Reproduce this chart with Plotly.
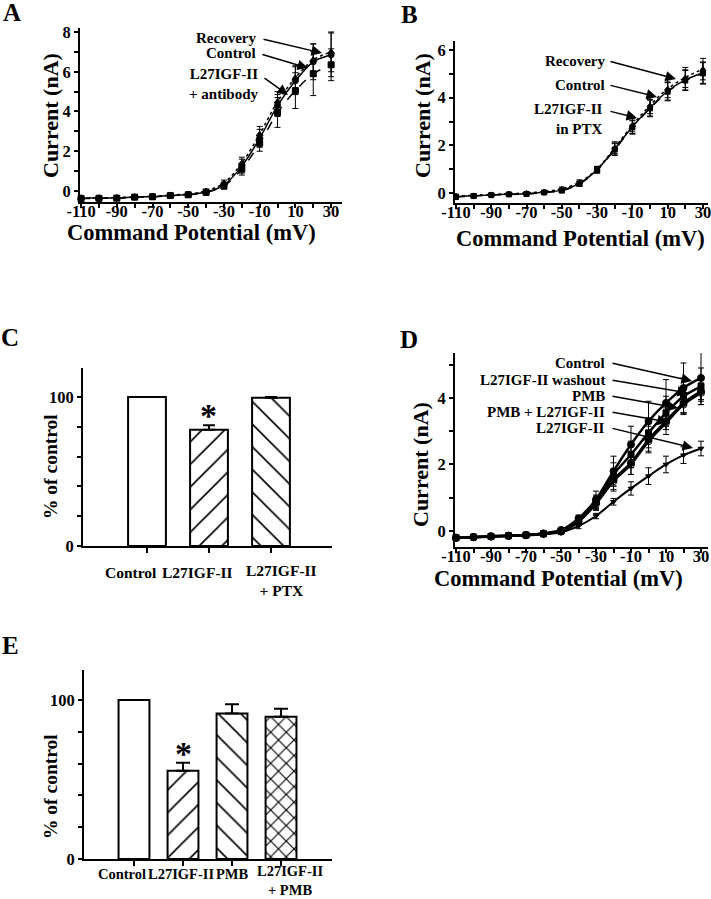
import plotly.graph_objects as go

# ---------------- data ----------------
voltage_mV = [-110, -100, -90, -80, -70, -60, -50, -40, -30, -20, -10, 0, 10, 20, 30]
x_tick_vals = [-110, -90, -70, -50, -30, -10, 10, 30]
x_tick_text = ["-110", "-90", "-70", "-50", "-30", "-10", "10", "30"]

# Panel A
a_control = [-0.35, -0.35, -0.35, -0.30, -0.28, -0.22, -0.18, -0.05, 0.30, 1.25, 2.65, 4.30, 5.55, 6.50, 6.85]
a_recovery = [-0.35, -0.35, -0.33, -0.30, -0.27, -0.20, -0.15, 0.00, 0.40, 1.40, 2.85, 4.50, 5.70, 6.60, 7.00]
a_antibody = [-0.38, -0.37, -0.36, -0.31, -0.29, -0.23, -0.19, -0.07, 0.25, 1.10, 2.40, 3.95, 5.05, 5.90, 6.35]
a_control_err = [0.08, 0.08, 0.08, 0.08, 0.08, 0.08, 0.08, 0.10, 0.15, 0.35, 0.45, 0.55, 0.70, 0.90, 1.10]
a_recovery_err = [0.08, 0.08, 0.08, 0.08, 0.08, 0.08, 0.08, 0.10, 0.15, 0.30, 0.40, 0.50, 0.60, 0.80, 1.00]
a_antibody_err = [0.08, 0.08, 0.08, 0.08, 0.08, 0.08, 0.08, 0.10, 0.15, 0.30, 0.40, 0.75, 0.90, 1.10, 0.80]

# Panel B
b_control = [-0.15, -0.12, -0.08, -0.05, -0.03, 0.03, 0.12, 0.40, 0.98, 1.85, 2.78, 3.58, 4.28, 4.75, 5.05]
b_recovery = [-0.12, -0.10, -0.06, -0.03, 0.00, 0.06, 0.17, 0.45, 1.00, 1.90, 2.85, 3.68, 4.38, 4.85, 5.20]
b_ptx = [-0.17, -0.13, -0.09, -0.06, -0.04, 0.02, 0.10, 0.38, 0.95, 1.82, 2.75, 3.55, 4.25, 4.72, 5.02]
b_err = [0.07, 0.06, 0.05, 0.05, 0.05, 0.05, 0.08, 0.10, 0.12, 0.25, 0.28, 0.35, 0.38, 0.42, 0.45]

# Panel C
c_categories = ["Control", "L27IGF-II", "L27IGF-II + PTX"]
c_labels = ["Control", "L27IGF-II", "L27IGF-II<br>+ PTX"]
c_values = [100, 78, 99.5]
c_err = [None, 3, 0.6]

# Panel D
d_control = [-0.20, -0.18, -0.16, -0.14, -0.12, -0.07, 0.03, 0.38, 0.95, 1.80, 2.60, 3.30, 3.85, 4.30, 4.60]
d_washout = [-0.20, -0.18, -0.16, -0.14, -0.12, -0.08, 0.00, 0.33, 0.88, 1.70, 2.30, 2.95, 3.55, 4.05, 4.35]
d_pmb = [-0.20, -0.18, -0.16, -0.14, -0.12, -0.08, -0.01, 0.30, 0.85, 1.55, 2.05, 2.75, 3.30, 3.85, 4.20]
d_pmb_l27 = [-0.21, -0.19, -0.17, -0.15, -0.13, -0.09, -0.02, 0.28, 0.82, 1.50, 2.00, 2.70, 3.25, 3.80, 4.15]
d_l27 = [-0.21, -0.19, -0.17, -0.15, -0.13, -0.10, -0.04, 0.15, 0.45, 0.88, 1.28, 1.65, 2.00, 2.28, 2.48]
d_control_err = [0.05, 0.05, 0.05, 0.05, 0.05, 0.05, 0.08, 0.10, 0.25, 0.45, 0.55, 0.60, 0.70, 0.75, 0.80]
d_washout_err = [0.05, 0.05, 0.05, 0.05, 0.05, 0.05, 0.08, 0.10, 0.20, 0.35, 0.40, 0.45, 0.50, 0.55, 0.55]
d_pmb_err = [0.05, 0.05, 0.05, 0.05, 0.05, 0.05, 0.08, 0.10, 0.20, 0.30, 0.35, 0.40, 0.40, 0.30, 0.25]
d_pmb_l27_err = [0.05, 0.05, 0.05, 0.05, 0.05, 0.05, 0.08, 0.10, 0.20, 0.30, 0.30, 0.30, 0.20, 0.25, 0.25]
d_l27_err = [0.05, 0.05, 0.05, 0.05, 0.05, 0.05, 0.06, 0.08, 0.08, 0.10, 0.20, 0.25, 0.25, 0.25, 0.22]

# Panel E
e_categories = ["Control", "L27IGF-II", "PMB", "L27IGF-II + PMB"]
e_labels = ["Control", "L27IGF-II", "PMB", "L27IGF-II<br>+ PMB"]
e_values = [100, 55.5, 91.5, 89.5]
e_err = [None, 5, 5.8, 5]

# ---------------- geometry helpers ----------------
W, H = 711, 899
FONT = "Liberation Serif"


def px(xp):
    return xp / W


def py(yp):
    return 1 - yp / H


def bfont(size):
    return dict(family=FONT, size=size, color="black", weight="bold")


# panel geometry: pixel domain + data range
panels = {
    "A": dict(xd=(80, 342), yd=(28, 202), xr=(-110.6, 36.1), yr=(-0.553, 8.2)),
    "B": dict(xd=(455, 708), yd=(41, 203), xr=(-110.57, 32.86), yr=(-0.42, 6.38)),
    "C": dict(xd=(83, 332), yd=(368, 546), xr=(-1.032, 2.984), yr=(0, 119.5)),
    "D": dict(xd=(455, 708), yd=(353, 547), xr=(-110.57, 34.0), yr=(-0.48, 5.35)),
    "E": dict(xd=(84, 332), yd=(670, 859), xr=(-1.02, 4.04), yr=(0, 118.9)),
}


def to_data(p, xp, yp):
    g = panels[p]
    x0, x1 = g["xd"]
    y0, y1 = g["yd"]
    a, b = g["xr"]
    c, d = g["yr"]
    return a + (xp - x0) / (x1 - x0) * (b - a), d - (yp - y0) / (y1 - y0) * (d - c)


axis_common = dict(
    showline=True, linecolor="black", linewidth=2, mirror=False,
    ticks="outside", ticklen=4, tickwidth=1.5, tickcolor="black",
    showgrid=False, zeroline=False, tickfont=bfont(16.5), fixedrange=True,
    automargin=False, ticklabeloverflow="allow",
)

fig = go.Figure()


def line_trace(xa, ya, y, err, symbol, dash, width=1.5, msize=6):
    return go.Scatter(
        x=voltage_mV, y=y, xaxis=xa, yaxis=ya, mode="lines+markers",
        line=dict(color="black", width=width, dash=dash, shape="spline", smoothing=0.8),
        marker=dict(symbol=symbol, size=msize, color="black",
                    line=dict(color="black", width=1)),
        error_y=dict(type="data", array=err, color="black", thickness=1, width=3),
        showlegend=False, cliponaxis=False,
    )


# Panel A
fig.add_trace(line_trace("x", "y", a_antibody, a_antibody_err, "square", "dash"))
fig.add_trace(line_trace("x", "y", a_recovery, a_recovery_err, "triangle-up", "dot"))
fig.add_trace(line_trace("x", "y", a_control, a_control_err, "circle", "solid"))

# Panel B
fig.add_trace(line_trace("x2", "y2", b_ptx, b_err, "square", "dash", msize=5))
fig.add_trace(line_trace("x2", "y2", b_recovery, b_err, "triangle-up", "dot", msize=5))
fig.add_trace(line_trace("x2", "y2", b_control, b_err, "circle", "solid", msize=5))

# Panel D
fig.add_trace(line_trace("x4", "y4", d_l27, d_l27_err, "triangle-down", "solid", 2, 5))
fig.add_trace(line_trace("x4", "y4", d_pmb_l27, d_pmb_l27_err, "circle-open", "solid", 2.5, 7))
fig.add_trace(line_trace("x4", "y4", d_pmb, d_pmb_err, "circle", "solid", 2.5, 7))
fig.add_trace(line_trace("x4", "y4", d_washout, d_washout_err, "square", "solid", 2.5, 6))
fig.add_trace(line_trace("x4", "y4", d_control, d_control_err, "circle", "solid", 2.5, 7))

# Panel C bars
fig.add_trace(go.Bar(
    x=c_categories, y=c_values, xaxis="x3", yaxis="y3", width=0.61,
    marker=dict(color="white", line=dict(color="black", width=2),
                pattern=dict(shape=["", "/", "\\"], fgcolor="black", bgcolor="white",
                             size=16, solidity=0.1, fillmode="replace")),
    error_y=dict(type="data", array=c_err, arrayminus=[0, 0, 0], symmetric=False,
                 color="black", thickness=2, width=6),
    showlegend=False,
))

# Panel E bars
fig.add_trace(go.Bar(
    x=e_categories, y=e_values, xaxis="x5", yaxis="y5", width=0.63,
    marker=dict(color="white", line=dict(color="black", width=2),
                pattern=dict(shape=["", "/", "\\", "x"], fgcolor="black", bgcolor="white",
                             size=[16, 16, 16, 11], solidity=[0.1, 0.1, 0.1, 0.2],
                             fillmode="replace")),
    error_y=dict(type="data", array=e_err, arrayminus=[0, 0, 0, 0], symmetric=False,
                 color="black", thickness=2, width=7),
    showlegend=False,
))


def dom(p):
    g = panels[p]
    return [px(g["xd"][0]), px(g["xd"][1])], [py(g["yd"][1]), py(g["yd"][0])]


layout = dict(
    template="none",
    width=W, height=H, margin=dict(l=0, r=0, t=0, b=0, autoexpand=False),
    paper_bgcolor="white", plot_bgcolor="white", showlegend=False, barmode="overlay",
)

minor_x = dict(ticks="outside", ticklen=4, tickwidth=1.5, tickcolor="black", dtick=10, tick0=-110, showgrid=False)

for i, p in enumerate(["A", "B", "C", "D", "E"], start=1):
    xd, yd = dom(p)
    sx = "" if i == 1 else str(i)
    g = panels[p]
    xa = dict(axis_common, domain=xd, anchor="y" + sx, range=list(g["xr"]))
    ya = dict(axis_common, domain=yd, anchor="x" + sx, range=list(g["yr"]))
    if p in ("A", "B", "D"):
        xa.update(tickmode="array", tickvals=x_tick_vals, ticktext=x_tick_text,
                  minor=minor_x, ticklabelstandoff=-11)
        ya.update(tick0=0, dtick=2,
                  minor=dict(ticks="outside", ticklen=4, tickwidth=1.5, tickcolor="black",
                             dtick=1, tick0=0, showgrid=False))
    else:
        xa.update(type="category", showticklabels=False, ticklen=5)
        ya.update(tick0=0, dtick=100,
                  minor=dict(ticks="outside", ticklen=4, tickwidth=1.5, tickcolor="black",
                             dtick=20, tick0=0, showgrid=False))
    layout["xaxis" + sx] = xa
    layout["yaxis" + sx] = ya

fig.update_layout(**layout)

ann = []


def ptext(text, xp, yp, size=15, angle=0, xanchor="center", yanchor="middle", align="center"):
    ann.append(dict(text=text, x=px(xp), y=py(yp), xref="paper", yref="paper",
                    showarrow=False, font=bfont(size), textangle=angle,
                    xanchor=xanchor, yanchor=yanchor, align=align))


def arrow(p, axis_sfx, tail, head):
    tx, ty = to_data(p, *tail)
    hx, hy = to_data(p, *head)
    ann.append(dict(text="", x=hx, y=hy, ax=tx, ay=ty,
                    xref="x" + axis_sfx, yref="y" + axis_sfx,
                    axref="x" + axis_sfx, ayref="y" + axis_sfx,
                    showarrow=True, arrowhead=2, arrowsize=1.4, arrowwidth=1.5,
                    arrowcolor="black", standoff=0, startstandoff=0))


# panel letters
ptext("A", 12, 13, 25)
ptext("B", 409, 14, 25)
ptext("C", 10, 337, 25)
ptext("D", 409, 340, 25)
ptext("E", 10, 645, 25)

# axis titles
ptext("Current (nA)", 50, 116, 22, angle=-90)
ptext("Command Potential (mV)", 192, 232, 22.5)
ptext("Current (nA)", 422, 116, 22, angle=-90)
ptext("Command Potential (mV)", 580, 238, 22.5)
ptext("% of control", 50, 467, 19.5, angle=-90)
ptext("Current (nA)", 420, 465, 22, angle=-90)
ptext("Command Potential (mV)", 558, 578, 22.5)
ptext("% of control", 50, 787, 19.5, angle=-90)

# Panel A labels + arrows
ptext("Recovery", 258, 38, 15, xanchor="right")
ptext("Control", 258, 53, 15, xanchor="right")
ptext("L27IGF-II<br>+ antibody", 260, 84, 15, xanchor="right", align="right")
arrow("A", "", (262, 39), (322, 53))
arrow("A", "", (261, 54), (308, 68))
arrow("A", "", (263, 77), (288, 95))

# Panel B labels + arrows
ptext("Recovery", 607, 61, 15, xanchor="right")
ptext("Control", 607, 85, 15, xanchor="right")
ptext("L27IGF-II<br>in PTX", 605, 119, 15, xanchor="right", align="right")
arrow("B", "2", (609, 61), (676, 79))
arrow("B", "2", (609, 85), (657, 97))
arrow("B", "2", (609, 111), (637, 118))

# Panel D labels + arrows
d_labels = ["Control", "L27IGF-II washout", "PMB", "PMB + L27IGF-II", "L27IGF-II"]
d_label_y = [363, 380, 396, 412, 428]
d_heads = [(692, 381), (688, 393), (678, 408), (668, 422), (693, 448)]
for lab, yy, hd in zip(d_labels, d_label_y, d_heads):
    ptext(lab, 607, yy, 15, xanchor="right")
    arrow("D", "4", (611, yy), hd)

# bar category labels (C)
for lab, xx in zip(c_labels, [131, 197, 281]):
    ptext(lab, xx, 580 if "<br>" in lab else 572, 15.5)
# bar category labels (E)
for lab, xx in zip(e_labels, [122, 181, 233, 290]):
    ptext(lab, xx, 880 if "<br>" in lab else 874, 14.5)

# significance stars
ann.append(dict(text="*", x=c_categories[1], y=c_values[1] + c_err[1], xref="x3", yref="y3",
                showarrow=False, font=bfont(34), yanchor="bottom", yshift=-11))
ann.append(dict(text="*", x=e_categories[1], y=e_values[1] + e_err[1], xref="x5", yref="y5",
                showarrow=False, font=bfont(34), yanchor="bottom", yshift=-11))

fig.update_layout(annotations=ann)
fig.write_html(
    "out.html",
    config={"displayModeBar": False},
    post_script="document.body.style.margin='0';document.body.style.padding='0';",
)
